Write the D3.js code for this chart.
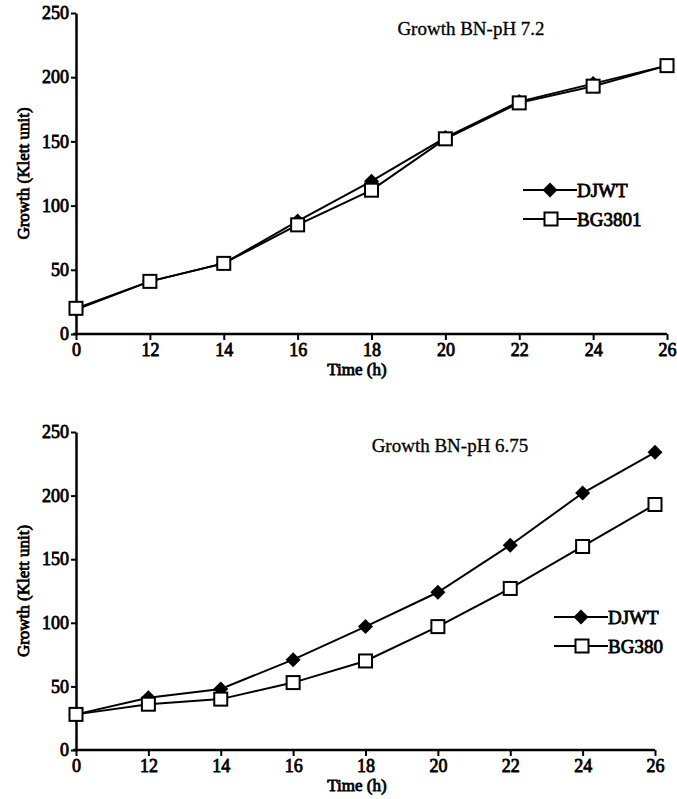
<!DOCTYPE html>
<html>
 <head>
    <title>Growth curves</title>
    <script src="https://d3js.org/d3.v7.min.js"></script>
    <style>
      body { margin: 0; background: #fff; }
      text { font-family: "Liberation Serif", "Times New Roman", serif; }
      .bold { font-weight: normal; stroke: #000; stroke-width: 0.8px; }
    </style>
 </head>
 <body>
    <div id="chart"></div>
    <script>
      // time points (h), shown as evenly spaced categories
      var hours = ["0", "12", "14", "16", "18", "20", "22", "24", "26"];
      var yTicks = [0, 50, 100, 150, 200, 250];

      // pH 7.2 panel
      var djwt72 = [19, 41, 55, 88, 119, 153, 181, 195, 209];
      var bg3801 = [20, 41, 55, 85, 112, 152, 180, 193, 209];

      // pH 6.75 panel
      var djwt675 = [28, 41, 48, 71, 97, 124, 161, 202, 234];
      var bg380 = [28, 36, 40, 53, 70, 97, 127, 160, 193];

      var width = 677;
      var height = 799;

      var svg = d3.select("#chart")
        .append("svg")
        .attr("width", width)
        .attr("height", height);

      var panels = [
        { title: "Growth BN-pH 7.2", a: djwt72, b: bg3801, aName: "DJWT", bName: "BG3801",
          x0: 76, x1: 667, yTop: 13, yBot: 334, titleX: 471, titleY: 35,
          legX: 523, legY: 190 },
        { title: "Growth BN-pH 6.75", a: djwt675, b: bg380, aName: "DJWT", bName: "BG380",
          x0: 76, x1: 655, yTop: 432, yBot: 750, titleX: 450, titleY: 452,
          legX: 554, legY: 617 }
      ];

      function diamond(r) {
        return "M0," + (-r) + "L" + r + ",0L0," + r + "L" + (-r) + ",0Z";
      }

      panels.forEach(function (p) {
        var g = svg.append("g");

        var x = d3.scalePoint().domain(hours).range([p.x0, p.x1]);
        var y = d3.scaleLinear().domain([0, 250]).range([p.yBot, p.yTop]);

        // axes
        var yAxis = g.append("g")
          .attr("transform", "translate(" + p.x0 + ",0)")
          .call(d3.axisLeft(y).tickValues(yTicks).tickSize(5).tickSizeOuter(0).tickPadding(2));
        var xAxis = g.append("g")
          .attr("transform", "translate(0," + p.yBot + ")")
          .call(d3.axisBottom(x).tickSize(6).tickSizeOuter(0).tickPadding(3));

        [yAxis, xAxis].forEach(function (ax) {
          ax.select(".domain").attr("stroke", "#000").attr("stroke-width", 2.5);
          ax.selectAll(".tick line").attr("stroke", "#000").attr("stroke-width", 2);
          ax.selectAll(".tick text")
            .attr("class", "bold")
            .attr("fill", "#000")
            .style("font-family", "'Liberation Serif', serif")
            .style("font-size", "18px");
        });
        xAxis.select(".domain").attr("d", "M" + (p.x0 - 3) + ",0H" + p.x1);

        // axis titles
        g.append("text")
          .attr("class", "bold")
          .attr("x", 357)
          .attr("y", p.yBot + 41)
          .attr("text-anchor", "middle")
          .style("font-size", "17px")
          .text("Time (h)");

        g.append("text")
          .attr("class", "bold")
          .attr("transform", "translate(29," + ((p.yTop + p.yBot) / 2) + ") rotate(-90)")
          .attr("text-anchor", "middle")
          .style("font-size", "17px")
          .text("Growth (Klett unit)");

        // panel title
        g.append("text")
          .attr("x", p.titleX)
          .attr("y", p.titleY)
          .attr("text-anchor", "middle")
          .attr("stroke", "#000")
          .attr("stroke-width", 0.3)
          .style("font-size", "19px")
          .text(p.title);

        var line = d3.line()
          .x(function (d, i) { return x(hours[i]); })
          .y(function (d) { return y(d); });

        // DJWT series
        g.append("path")
          .datum(p.a)
          .attr("d", line)
          .attr("fill", "none")
          .attr("stroke", "#000")
          .attr("stroke-width", 2);
        g.selectAll(".dia")
          .data(p.a)
          .enter()
          .append("path")
          .attr("class", "dia")
          .attr("transform", function (d, i) { return "translate(" + x(hours[i]) + "," + y(d) + ")"; })
          .attr("d", diamond(7.5))
          .attr("fill", "#000");

        // mutant series
        g.append("path")
          .datum(p.b)
          .attr("d", line)
          .attr("fill", "none")
          .attr("stroke", "#000")
          .attr("stroke-width", 2);
        g.selectAll(".sq")
          .data(p.b)
          .enter()
          .append("rect")
          .attr("class", "sq")
          .attr("x", function (d, i) { return x(hours[i]) - 6.5; })
          .attr("y", function (d) { return y(d) - 6.5; })
          .attr("width", 13)
          .attr("height", 13)
          .attr("fill", "#fff")
          .attr("stroke", "#000")
          .attr("stroke-width", 2);

        // legend
        var leg = g.append("g").attr("transform", "translate(" + p.legX + "," + p.legY + ")");
        [p.aName, p.bName].forEach(function (name, i) {
          var row = leg.append("g").attr("transform", "translate(0," + (i * 29) + ")");
          row.append("line")
            .attr("x1", 0).attr("x2", 54)
            .attr("stroke", "#000").attr("stroke-width", 2);
          if (i === 0) {
            row.append("path")
              .attr("transform", "translate(27,0)")
              .attr("d", diamond(7.5))
              .attr("fill", "#000");
          } else {
            row.append("rect")
              .attr("x", 21.5).attr("y", -6.5)
              .attr("width", 13).attr("height", 13)
              .attr("fill", "#fff").attr("stroke", "#000").attr("stroke-width", 2);
          }
          row.append("text")
            .attr("class", "bold")
            .attr("x", 54)
            .attr("y", 6.5)
            .style("font-size", "19px")
            .text(name);
        });
      });
    </script>
 </body>
</html>
